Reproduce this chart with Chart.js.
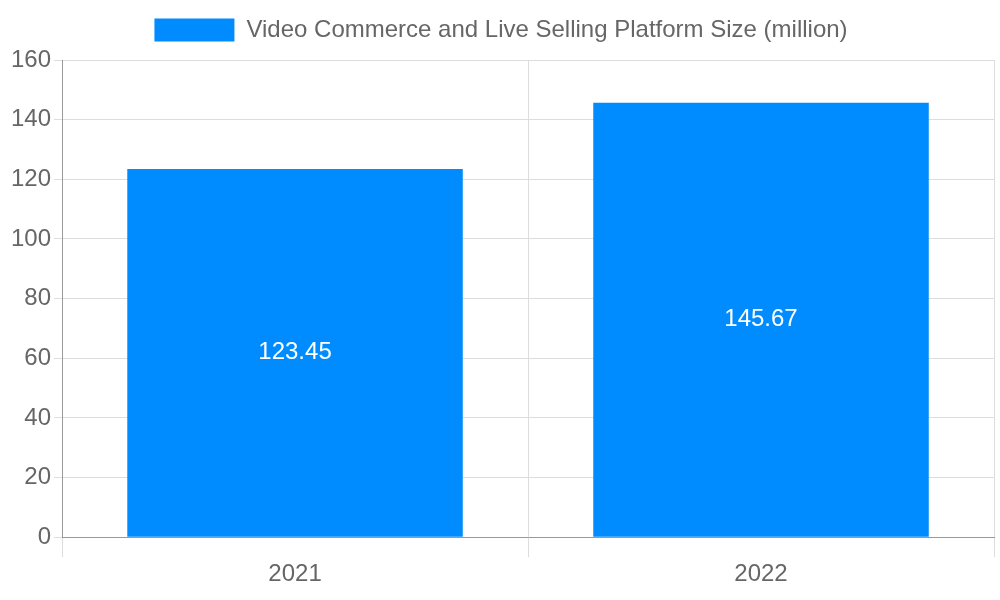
<!DOCTYPE html>
<html><head><meta charset="utf-8">
<script src="https://cdn.jsdelivr.net/npm/chart.js"></script>
<style>html,body{margin:0;padding:0;background:#fff}#w{width:1000px;height:600px}</style>
</head><body><div id="w"><canvas id="c"></canvas></div>
<script>
const categories = ["2021", "2022"];
const values = [123.45, 145.67];
const seriesLabel = "Video Commerce and Live Selling Platform Size (million)";
const FONT = '"Liberation Sans", Arial, sans-serif';
const labelPlugin = {
  id: 'lbl',
  afterDatasetsDraw(chart) {
    const ctx = chart.ctx;
    chart.getDatasetMeta(0).data.forEach((bar, i) => {
      ctx.save();
      ctx.fillStyle = '#fff';
      ctx.font = '24px ' + FONT;
      ctx.textAlign = 'center'; ctx.textBaseline = 'middle';
      ctx.fillText(values[i].toFixed(2), bar.x, (bar.y + bar.base) / 2);
      ctx.restore();
    });
  }
};
const legendPad = { id: 'lp', beforeInit(chart) {
  const fit = chart.legend.fit;
  chart.legend.fit = function () { fit.bind(chart.legend)(); this.height += 8; };
} };
new Chart(document.getElementById('c'), {
  type: 'bar',
  data: { labels: categories, datasets: [{ label: seriesLabel, data: values, backgroundColor: '#008cff', borderWidth: 0 }] },
  options: {
    responsive: true, maintainAspectRatio: false, animation: false,
    layout: { padding: { top: 8, left: 8, right: 6, bottom: 8 } },
    plugins: {
      legend: { labels: { font: { size: 24, family: FONT }, color: '#666', boxWidth: 80, boxHeight: 23 } },
      tooltip: { enabled: false }
    },
    scales: {
      x: { grid: { color: '#ddd', tickLength: 20 }, border: { color: '#999' },
           ticks: { font: { size: 24, family: FONT }, color: '#666' } },
      y: { min: 0, max: 160, grid: { color: '#ddd' }, border: { color: '#999' },
           ticks: { stepSize: 20, font: { size: 24, family: FONT }, color: '#666' } }
    }
  },
  plugins: [labelPlugin, legendPad]
});
</script></body></html>
